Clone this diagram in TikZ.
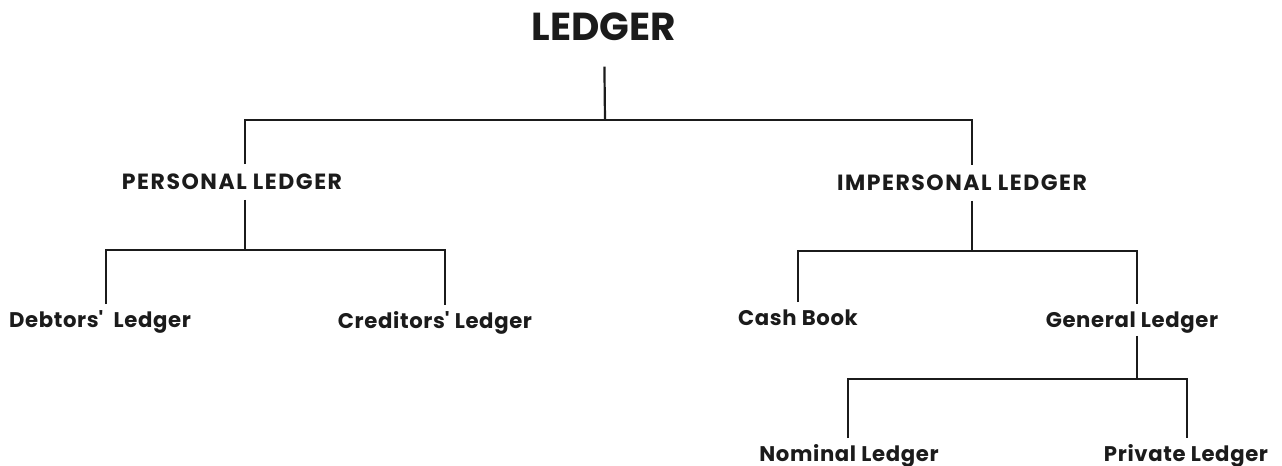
\documentclass[tikz,border=0pt]{standalone}
\usepackage{fontspec}
\setmainfont{Poppins}
\usepackage{tikz}
\usetikzlibrary{positioning, calc}
\definecolor{ink}{HTML}{1B1B1B}
\tikzstyle{link} = [line width=1.1pt, draw=ink]

\begin{document}
\begin{tikzpicture}[x=0.5pt, y=-0.5pt,
		head/.style={font=\fontsize{19.5}{22}\selectfont\bfseries, text=ink, inner sep=0pt, text height=13.6pt, text depth=0pt, outer ysep=13pt},
		group/.style={font=\fontsize{11}{13}\selectfont\bfseries\addfontfeatures{LetterSpace=7}, text=ink, inner sep=0pt, text height=7.5pt, text depth=0pt, outer ysep=5.2pt},
		leaf/.style={font=\fontsize{10.6}{12}\selectfont\bfseries\addfontfeatures{LetterSpace=3}, text=ink, inner sep=0pt, text height=7.5pt, text depth=0pt, outer ysep=4.2pt}]
		\useasboundingbox (0,0) rectangle (1282,466);
		
		\node (ledger) [head] at (604,27) {LEDGER};
		\node (personal) [group] at (232,182) {PERSONAL LEDGER};
		\node (impersonal) [group] at (962,183) {IMPERSONAL LEDGER};
		\node (debtors) [leaf] at (100,320) {Debtors\textquotesingle\ \ Ledger};
		\node (creditors) [leaf] at (435,321) {Creditors\textquotesingle\ Ledger};
		\node (cash) [leaf] at (798,318) {Cash Book};
		\node (general) [leaf] at (1132,320) {General Ledger};
		\node (nominal) [leaf] at (849,454) {Nominal Ledger};
		\node (private) [leaf] at (1186,454) {Private Ledger};
		
		% fork points
		\coordinate (rootfork) at (605,120);
		\coordinate (persfork) at (245,250);
		\coordinate (impfork) at (972,251);
		\coordinate (genfork) at (1137,379);
		
		\draw[link] (ledger) -- (rootfork);
		\draw[link] ([xshift=6.5pt]personal.north) |- (rootfork) -| ([xshift=5pt]impersonal.north);
		
		\draw[link] ([xshift=6.5pt]personal.south) -- (persfork);
		\draw[link] ([xshift=3pt]debtors.north) |- (persfork) -| ([xshift=5pt]creditors.north);
		
		\draw[link] ([xshift=5pt]impersonal.south) -- (impfork);
		\draw[link] (cash.north) |- (impfork) -| ([xshift=2.5pt]general.north);
		
		\draw[link] ([xshift=2.5pt]general.south) -- (genfork);
		\draw[link] ([xshift=-0.5pt]nominal.north) |- (genfork) -| ([xshift=0.5pt]private.north);
	\end{tikzpicture}
\end{document}
